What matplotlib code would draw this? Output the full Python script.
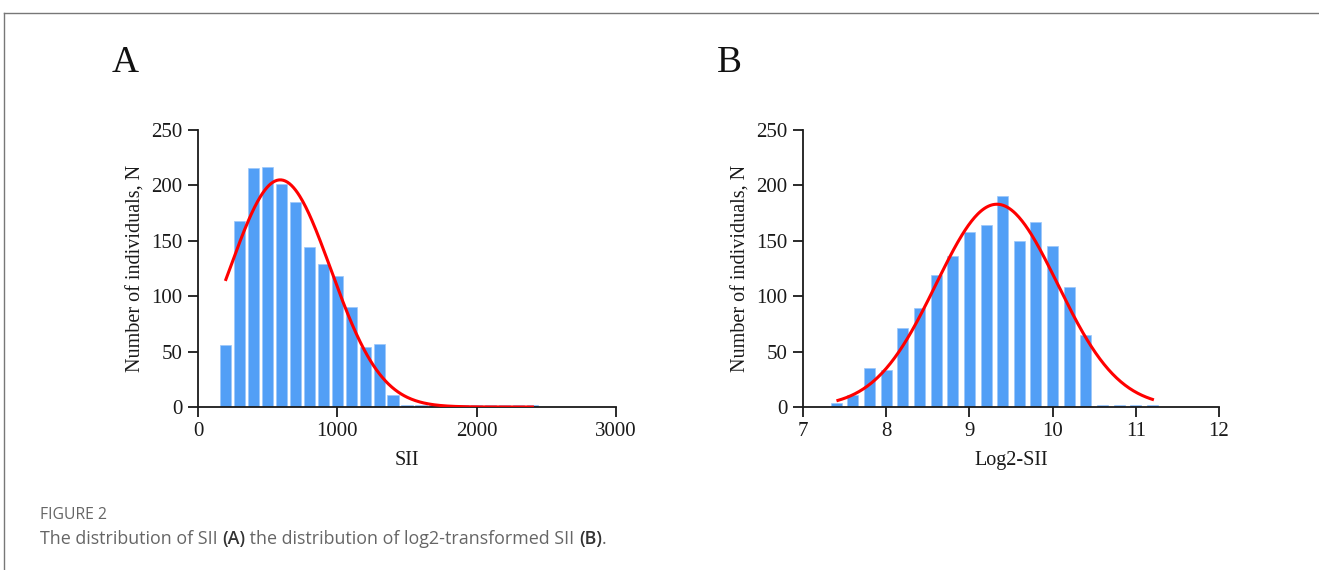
import matplotlib
matplotlib.use('Agg')
import matplotlib.pyplot as plt
from matplotlib.lines import Line2D
import numpy as np

# Panel A: SII histogram (bin centres, counts)
sii_bins = [200, 300, 400, 500, 600, 700, 800, 900, 1000, 1100, 1200, 1300,
            1400, 1500, 1600, 1700, 1800, 1900, 2000, 2100, 2200, 2300, 2400]
sii_counts = [56, 168, 216, 217, 201, 185, 144, 129, 118, 90, 54, 57,
              11, 2, 2, 2, 2, 2, 2, 2, 2, 2, 2]
# Gaussian fit: peak, mean, sd, range
sii_fit = dict(peak=205, mean=590, sd=363, start=200, stop=2400)

# Panel B: log2-SII histogram
log_bins = [7.4, 7.6, 7.8, 8.0, 8.2, 8.4, 8.6, 8.8, 9.0, 9.2, 9.4, 9.6,
            9.8, 10.0, 10.2, 10.4, 10.6, 10.8, 11.0, 11.2]
log_counts = [4, 11, 35, 33, 71, 89, 119, 136, 158, 164, 190, 150,
              167, 145, 108, 65, 2, 2, 2, 2]
log_fit = dict(peak=183, mean=9.33, sd=0.73, start=7.42, stop=11.2)

BAR_COLOR = '#529ff6'
CURVE_COLOR = '#ff0000'
SERIF = 'Liberation Serif'
INK = '#1a1a1a'


def gaussian(fit, n=300):
    x = np.linspace(fit['start'], fit['stop'], n)
    y = fit['peak'] * np.exp(-(x - fit['mean']) ** 2 / (2 * fit['sd'] ** 2))
    return x, y


def style_axes(ax, xlim, xticks, xlabel):
    for side in ['top', 'right']:
        ax.spines[side].set_visible(False)
    for side in ['left', 'bottom']:
        ax.spines[side].set_linewidth(1.3)
        ax.spines[side].set_color(INK)
    ax.set_xlim(*xlim)
    ax.set_ylim(0, 250)
    ax.set_xticks(xticks)
    ax.set_yticks([0, 50, 100, 150, 200, 250])
    ax.tick_params(direction='out', length=7, width=1.3, color=INK,
                   labelsize=15, pad=4)
    for lab in ax.get_xticklabels() + ax.get_yticklabels():
        lab.set_fontfamily(SERIF)
        lab.set_color(INK)
    ax.set_xlabel(xlabel, fontsize=14.5, family=SERIF, color=INK, labelpad=7)
    ax.set_ylabel('Number of individuals, N', fontsize=14.5, family=SERIF,
                  color=INK, labelpad=4)


fig = plt.figure(figsize=(13.19, 5.70), dpi=100)

# frame lines of the figure box
fig.add_artist(Line2D([4 / 1319, 1], [1 - 13 / 570, 1 - 13 / 570],
                      transform=fig.transFigure, color='#777777', lw=1))
fig.add_artist(Line2D([4 / 1319, 4 / 1319], [0, 1 - 13 / 570],
                      transform=fig.transFigure, color='#777777', lw=1))

ax1 = fig.add_axes([198 / 1319, 1 - 407 / 570, 418 / 1319, 277 / 570])
ax1.bar(sii_bins, sii_counts, width=80, color=BAR_COLOR,
        edgecolor='#9cc8fa', linewidth=0.5, zorder=2)
x, y = gaussian(sii_fit)
ax1.plot(x, y, color=CURVE_COLOR, lw=2.2, zorder=3)
style_axes(ax1, (0, 3000), [0, 1000, 2000, 3000], 'SII')

ax2 = fig.add_axes([803 / 1319, 1 - 407 / 570, 416 / 1319, 277 / 570])
ax2.bar(log_bins, log_counts, width=0.132, color=BAR_COLOR,
        edgecolor='#9cc8fa', linewidth=0.5, zorder=2)
x, y = gaussian(log_fit)
ax2.plot(x, y, color=CURVE_COLOR, lw=2.2, zorder=3)
style_axes(ax2, (7, 12), [7, 8, 9, 10, 11, 12], 'Log2-SII')

fig.text(112 / 1319, 1 - 63 / 570, 'A', fontsize=27, family=SERIF,
         va='center', ha='left', color='#111111')
fig.text(717 / 1319, 1 - 63 / 570, 'B', fontsize=27, family=SERIF,
         va='center', ha='left', color='#111111')

# caption
CAP_FONT = 'Open Sans'
fig.text(40 / 1319, 1 - 515 / 570, 'FIGURE 2', fontsize=11.3, family=CAP_FONT,
         color='#666666', va='center', ha='left')

pieces = [('The distribution of SII ', '#666666', 'normal'),
          ('(A)', '#333333', 'semibold'),
          (' the distribution of log2-transformed SII ', '#666666', 'normal'),
          ('(B)', '#333333', 'semibold'),
          ('.', '#666666', 'normal')]
renderer = fig.canvas.get_renderer()
xpos = 40 / 1319
for txt, col, wt in pieces:
    t = fig.text(xpos, 1 - 539 / 570, txt, fontsize=12.9, family=CAP_FONT,
                 color=col, weight=wt, va='center', ha='left')
    bb = t.get_window_extent(renderer=renderer)
    xpos += bb.width / fig.bbox.width

fig.savefig('out.png', dpi=100)
